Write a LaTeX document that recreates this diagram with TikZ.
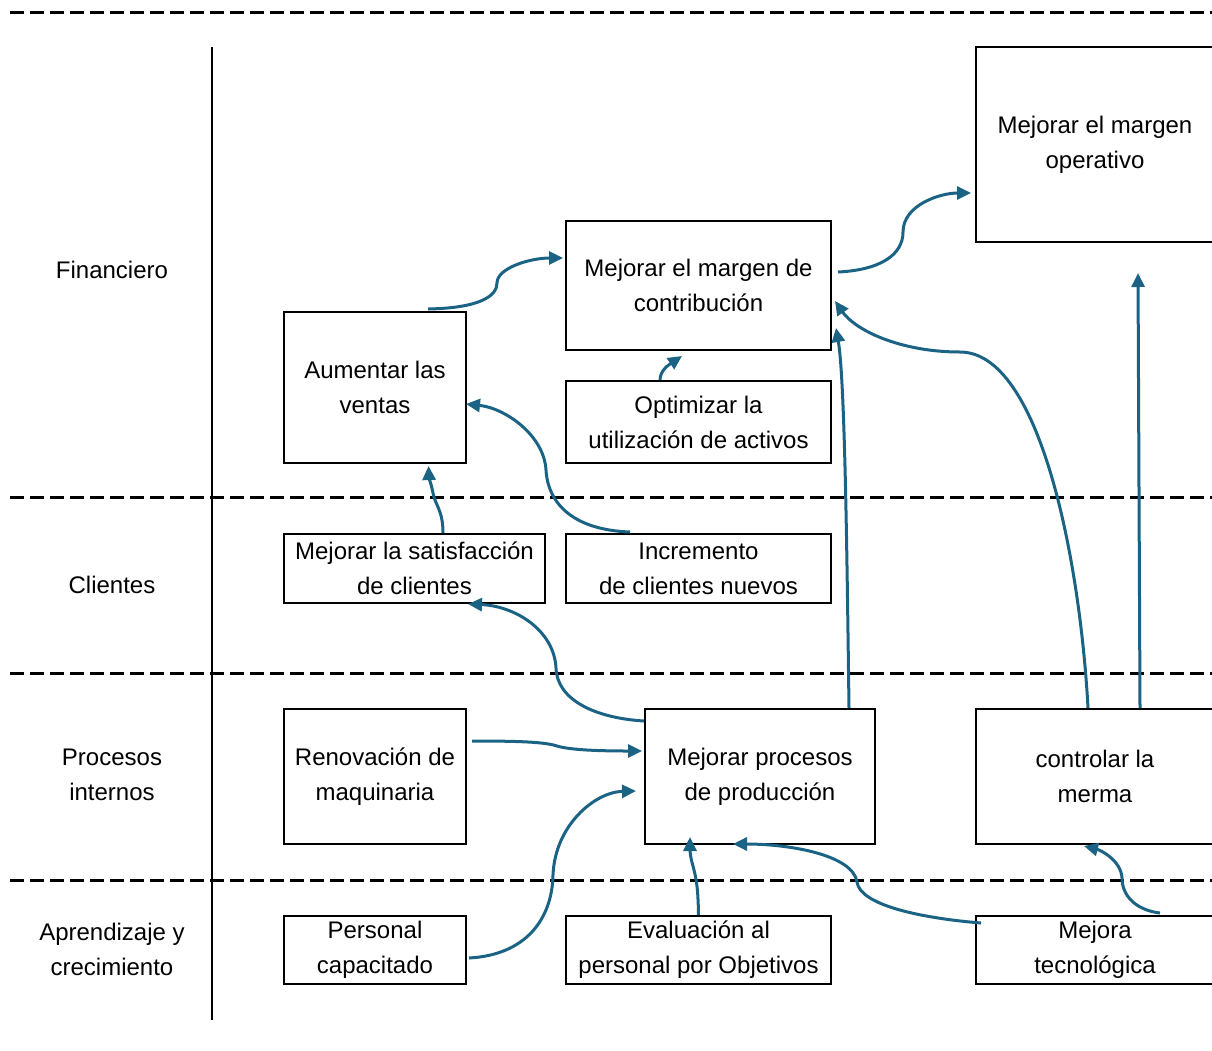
\documentclass[tikz,border=0pt]{standalone}
\usepackage{fontspec}
\setmainfont{Liberation Sans}
\usetikzlibrary{arrows.meta,calc}
\definecolor{linkblue}{RGB}{27,99,133}
\tikzset{
  box/.style={draw, line width=2pt, inner sep=0pt, align=center},
  lanelabel/.style={align=center, inner sep=0pt},
  lane/.style={line width=3pt, dash pattern=on 14pt off 6pt},
  link/.style={linkblue, line width=3pt, -{Triangle[length=14pt,width=13pt]}}
}
\begin{document}
\begin{tikzpicture}[x=1pt, y=-1pt, font=\fontsize{24}{35}\selectfont]
\useasboundingbox (0,0) rectangle (1212,1050);

% perspective separators
\draw[lane] (10,12) -- (1212,12);
\draw[lane] (10,497) -- (1212,497);
\draw[lane] (10,673) -- (1212,673);
\draw[lane] (10,880) -- (1212,880);
\draw[line width=2.5pt] (212,47) -- (212,1020);

% perspective names
\node[lanelabel] (lfin) at (112,270) {Financiero};
\node[lanelabel] (lcli) at (112,585) {Clientes};
\node[lanelabel] (lpro) at (112,775) {Procesos\\internos};
\node[lanelabel] (lapr) at (112,949) {Aprendizaje y\\crecimiento};

% objectives
\node[box, minimum width=238pt, minimum height=195pt] (operativo) at (1095,144.5) {Mejorar el margen\\operativo};
\node[box, minimum width=265pt, minimum height=129pt] (contrib) at (698.5,285.5) {Mejorar el margen de\\contribución};
\node[box, minimum width=182pt, minimum height=151pt] (ventas) at (375,387.5) {Aumentar las\\ventas};
\node[box, minimum width=265pt, minimum height=82pt] (optimizar) at (698.5,422) {Optimizar la\\utilización de activos};
\node[box, minimum width=261pt, minimum height=69pt] (satisf) at (414.5,568.5) {Mejorar la satisfacción\\de clientes};
\node[box, minimum width=265pt, minimum height=69pt] (incremento) at (698.5,568.5) {Incremento\\de clientes nuevos};
\node[box, minimum width=182pt, minimum height=135pt] (renov) at (375,776.5) {Renovación de\\maquinaria};
\node[box, minimum width=230pt, minimum height=135pt] (procesos) at (760,776.5) {Mejorar procesos\\de producción};
\node[box, minimum width=238pt, minimum height=135pt] (merma) at (1095,776.5) {controlar la\\merma};
\node[box, minimum width=182pt, minimum height=68pt] (personal) at (375,950) {Personal\\capacitado};
\node[box, minimum width=265pt, minimum height=68pt] (evaluacion) at (698.5,950) {Evaluación al\\personal por Objetivos};
\node[box, minimum width=238pt, minimum height=68pt] (tecnologica) at (1095,950) {Mejora\\tecnológica};

% cause-effect links
\draw[link] ($(ventas.north)+(53,-2)$) .. controls (480,308) and (497,296) .. (497,283)
  .. controls (497,268) and (530,258) .. ($(contrib.west)+(-2,-27.5)$);
\draw[link] ($(contrib.east)+(6,-13.5)$) .. controls (880,270) and (903,255) .. (903,232)
  .. controls (903,205) and (940,193) .. ($(operativo.west)+(-4,48.5)$);
\draw[link] ($(optimizar.north)+(-38.5,0)$) .. controls (660,370) and (670,364) .. ($(contrib.south)+(-16.5,5)$);
\draw[link] ($(incremento.north)+(-68.5,-1)$) .. controls (575,530) and (548,505) .. (546,470)
  .. controls (544,435) and (505,408) .. ($(ventas.east)+(-1,16.5)$);
\draw[link] ($(satisf.north)+(28.5,0)$) .. controls (443,510) and (435,505) .. (433,493)
  .. controls (431,483) and (429,478) .. ($(ventas.south)+(53.5,2)$);
\draw[link] ($(procesos.west)+(0,-55.5)$) .. controls (595,718) and (557,700) .. (556,668)
  .. controls (554,630) and (515,606) .. ($(satisf.south)+(53.5,0)$);
\draw[link] ($(procesos.north)+(89,0)$) .. controls (847,560) and (845,380) .. ($(contrib.east)+(4,42.5)$);
\draw[link] ($(merma.north)+(-7,0)$) .. controls (1080,560) and (1040,352) .. (960,352)
  .. controls (900,352) and (855,330) .. ($(contrib.east)+(3,15.5)$);
\draw[link] ($(merma.north)+(45,0)$) -- ($(operativo.south)+(43,30)$);
\draw[link] ($(renov.east)+(5,-35.5)$) .. controls (520,741) and (545,742) .. (557,746)
  .. controls (570,750) and (600,751) .. ($(procesos.west)+(-2,-25.5)$);
\draw[link] ($(personal.east)+(2,8)$) .. controls (525,955) and (552,920) .. (553,875)
  .. controls (555,825) and (595,792) .. ($(procesos.west)+(-8,14.5)$);
\draw[link] (evaluacion.north) .. controls (698,885) and (696,878) .. (693,866)
  .. controls (690,856) and (690,850) .. ($(procesos.south)+(-70,-8)$);
\draw[link] ($(tecnologica.west)+(6,-27)$) .. controls (920,918) and (860,905) .. (857,882)
  .. controls (853,855) and (790,844) .. ($(procesos.south)+(-27,-1)$);
\draw[link] ($(tecnologica.north)+(65,-2)$) .. controls (1135,910) and (1122,895) .. (1122,878)
  .. controls (1121,860) and (1100,850) .. ($(merma.south)+(-11,1)$);
\end{tikzpicture}
\end{document}
